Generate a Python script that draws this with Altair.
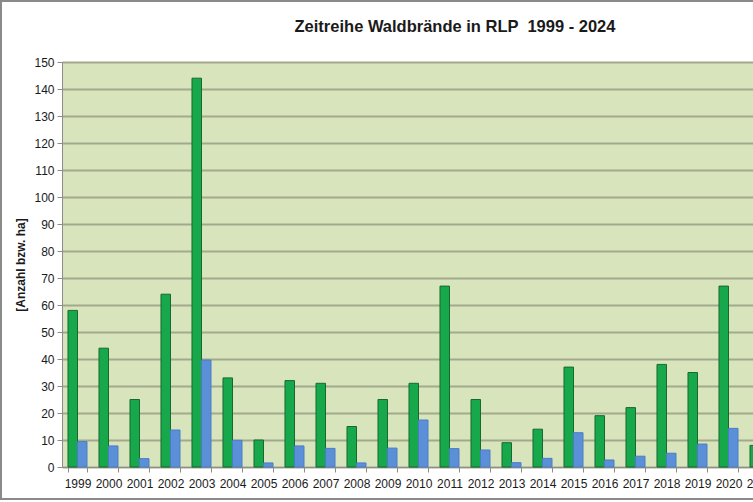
import altair as alt
import pandas as pd

# Categories (full series 1999-2024; only 1999-2021 are visible in the picture)
years = [str(y) for y in range(1999, 2025)]

# Anzahl Waldbrände (green) – visible years 1999..2021
anzahl_years = [str(y) for y in range(1999, 2022)]
anzahl = [58, 44, 25, 64, 144, 33, 10, 32, 31, 15, 25, 31, 67, 25, 9, 14, 37, 19, 22, 38, 35, 67, 8]

# Fläche ha (blue) – visible years 1999..2020
flaeche_years = [str(y) for y in range(1999, 2021)]
flaeche = [9.4, 7.8, 3.1, 13.7, 39.6, 9.9, 1.5, 7.8, 6.9, 1.5, 7.0, 17.4, 6.8, 6.3, 1.6, 3.2, 12.7, 2.6, 4.0, 5.1, 8.5, 14.3]

series_names = ["Anzahl", "Fläche ha"]
fill_colors = ["#16a84a", "#5b8fd8"]
stroke_colors = ["#17692f", "#4a7cc4"]

title_text = "Zeitreihe Waldbrände in RLP \u00a01999 - 2024"

rows = [{"Jahr": y, "Serie": series_names[0], "Wert": v} for y, v in zip(anzahl_years, anzahl)]
rows += [{"Jahr": y, "Serie": series_names[1], "Wert": v} for y, v in zip(flaeche_years, flaeche)]
df = pd.DataFrame(rows)

FONT = "Liberation Sans"
LEFT, TOP = 62, 62
W = 753 - LEFT          # visible part of the plot area
FULL = 26 * 31         # full band range (extends past the window, as in the reference)
H = 405

bars = alt.Chart(df).mark_bar(strokeWidth=1).encode(
    x=alt.X("Jahr:N", sort=years,
            scale=alt.Scale(domain=years, range=[0, FULL], paddingInner=0.387, paddingOuter=0.1935),
            axis=alt.Axis(title=None, labelAngle=0, tickBand="extent", labelFont=FONT,
                          labelFontSize=12, labelColor="#1a1a1a", labelPadding=6,
                          domainColor="#8c8c8c", tickColor="#8c8c8c", tickSize=5,
                          grid=False)),
    xOffset=alt.XOffset("Serie:N", sort=series_names, scale=alt.Scale(paddingInner=0, paddingOuter=0)),
    y=alt.Y("Wert:Q",
            scale=alt.Scale(domain=[0, 150], nice=False),
            axis=alt.Axis(title="[Anzahl bzw. ha]", values=list(range(0, 151, 10)),
                          labelFont=FONT, labelFontSize=12, labelColor="#1a1a1a",
                          titleFont=FONT, titleFontSize=12, titleFontWeight="bold",
                          titleColor="#1a1a1a", titlePadding=6, labelPadding=3,
                          domainColor="#8c8c8c", tickColor="#8c8c8c", tickSize=5,
                          gridColor="#a3aa8c", gridWidth=2)),
    color=alt.Color("Serie:N", scale=alt.Scale(domain=series_names, range=fill_colors), legend=None),
    stroke=alt.Stroke("Serie:N", scale=alt.Scale(domain=series_names, range=stroke_colors), legend=None),
)

one = pd.DataFrame({"t": [title_text]})

frame = alt.Chart(one).mark_rect(
    fill=None, stroke="#8a8a8a", strokeWidth=2, clip=False
).encode(
    x=alt.value(-61), x2=alt.value(W + 60),
    y=alt.value(-61), y2=alt.value(H + 32),
)

title = alt.Chart(one).mark_text(
    font=FONT, fontSize=16.5, fontWeight="bold", color="#1a1a1a",
    align="center", baseline="middle", clip=False
).encode(
    text="t:N", x=alt.value(455 - LEFT), y=alt.value(27 - TOP),
)

chart = alt.layer(bars, frame, title).properties(
    width=W, height=H,
    padding={"left": LEFT, "top": TOP, "right": 0, "bottom": 35},
    autosize=alt.AutoSizeParams(type="none"),
    background="white",
).configure_view(fill="#d8e4bc", stroke=None)

chart.save("out.html", embed_options={"renderer": "svg", "actions": False})
